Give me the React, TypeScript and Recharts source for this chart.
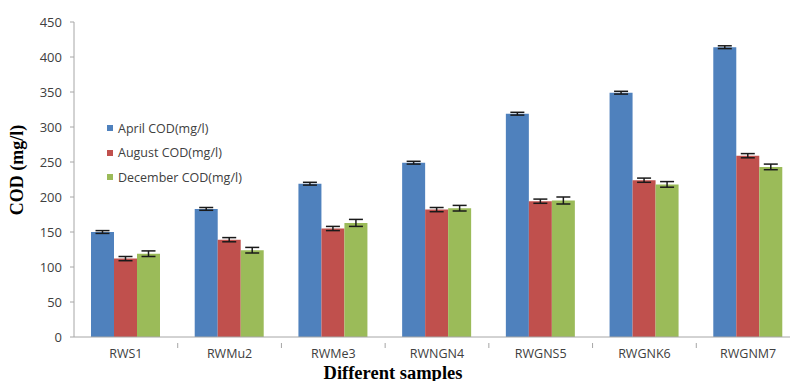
import { BarChart, Bar, XAxis, YAxis, ErrorBar, Label } from 'recharts'

const samples = ['RWS1', 'RWMu2', 'RWMe3', 'RWNGN4', 'RWGNS5', 'RWGNK6', 'RWGNM7']
const aprilCod = [150, 183, 219, 249, 319, 349, 414]
const augustCod = [112, 139, 155, 182, 194, 224, 259]
const decemberCod = [119, 124, 163, 184, 195, 218, 243]
const aprilErr = [2, 2, 2, 2, 2, 2, 2]
const augustErr = [3, 3, 3, 3, 3, 3, 3]
const decemberErr = [4, 4, 5, 4, 5, 4, 4]
const yTicks = [0, 50, 100, 150, 200, 250, 300, 350, 400, 450]

const series = [
  { key: 'april', err: 'aprilErr', name: 'April COD(mg/l)', color: '#4f81bd' },
  { key: 'august', err: 'augustErr', name: 'August COD(mg/l)', color: '#c0504d' },
  { key: 'december', err: 'decemberErr', name: 'December COD(mg/l)', color: '#9bbb59' },
]

const data = samples.map((s, i) => ({
  sample: s,
  april: aprilCod[i],
  august: augustCod[i],
  december: decemberCod[i],
  aprilErr: aprilErr[i],
  augustErr: augustErr[i],
  decemberErr: decemberErr[i],
}))

const tickFont = '"Open Sans", "Liberation Sans", sans-serif'
const titleFont = '"Liberation Serif", "Times New Roman", serif'
const axisColor = '#a6a6a6'

// category label plus a tick mark on the boundary between groups
function SampleTick(props: any) {
  const { x, y, payload, width } = props
  const half = width / samples.length / 2
  return (
    <g>
      <line x1={x + half} x2={x + half} y1={y - 2} y2={y + 3} stroke={axisColor} />
      <text x={x} y={y + 13} textAnchor="middle" fontSize={12.5} fill="#404040" fontFamily={tickFont}>
        {payload.value}
      </text>
    </g>
  )
}

function SeriesLegend() {
  return (
    <div
      style={{
        position: 'absolute',
        left: 107,
        top: 116,
        fontFamily: tickFont,
        fontSize: 12.5,
        color: '#404040',
      }}
    >
      {series.map(s => (
        <div key={s.key} style={{ display: 'flex', alignItems: 'center', height: 24.5 }}>
          <span style={{ width: 6, height: 6, background: s.color, marginRight: 5 }} />
          {s.name}
        </div>
      ))}
    </div>
  )
}

export default function App() {
  return (
    <div
      style={{
        position: 'fixed',
        left: 0,
        top: 0,
        width: 790,
        height: 381,
        overflow: 'hidden',
        background: '#fff',
      }}
    >
      <BarChart
        width={800}
        height={381}
        data={data}
        margin={{ top: 22, right: 0, bottom: 0, left: 0 }}
        barGap={0}
        barSize={23}
      >
        <XAxis
          dataKey="sample"
          height={44}
          stroke={axisColor}
          tickLine={false}
          tick={<SampleTick />}
          interval={0}
        >
          <Label
            content={() => (
              <text x={393} y={379} textAnchor="middle" fontFamily={titleFont} fontWeight="bold" fontSize={18.5} fill="#000">
                Different samples
              </text>
            )}
          />
        </XAxis>
        <YAxis
          width={74}
          domain={[0, 450]}
          ticks={yTicks}
          interval={0}
          stroke={axisColor}
          tickSize={4}
          tickMargin={8}
          tick={{ fontSize: 13, fill: '#404040', fontFamily: tickFont }}
        >
          <Label
            content={() => (
              <text
                x={23}
                y={170}
                transform="rotate(-90 23 170)"
                textAnchor="middle"
                fontFamily={titleFont}
                fontWeight="bold"
                fontSize={18}
                fill="#000"
              >
                COD (mg/l)
              </text>
            )}
          />
        </YAxis>
        {series.map(s => (
          <Bar key={s.key} dataKey={s.key} name={s.name} fill={s.color} isAnimationActive={false}>
            <ErrorBar dataKey={s.err} width={7} stroke="#1a1a1a" strokeWidth={1.5} />
          </Bar>
        ))}
      </BarChart>
      <SeriesLegend />
    </div>
  )
}
